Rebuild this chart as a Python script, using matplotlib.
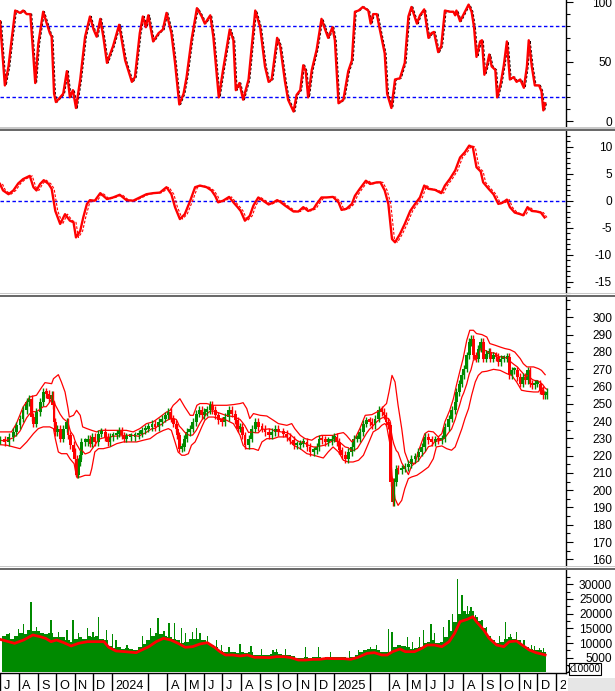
import numpy as np
import pandas as pd
import matplotlib
matplotlib.use("Agg")
import matplotlib.pyplot as plt
from matplotlib.patches import Rectangle
from matplotlib.ticker import MultipleLocator, FixedLocator

plt.rcParams['font.family'] = ['Liberation Sans', 'DejaVu Sans']
plt.rcParams['axes.unicode_minus'] = False

# ---------------- data (day offsets from 2023-07-01) ----------------
START = pd.Timestamp('2023-07-01')

stoch_day = [0, 8, 14, 19, 25, 33, 38, 44, 50, 55, 58, 63, 71, 77, 82, 85, 89, 92, 99, 104,
             110, 115, 120, 125, 132, 140, 148, 154, 159, 165, 170, 176, 186, 196, 206, 217, 222, 230, 235, 240,
             244, 252, 261, 268, 274, 282, 288, 295, 302, 307, 315, 324, 332, 337, 346, 351, 360, 367, 378, 384,
             388, 394, 400, 409, 420, 428, 436, 442, 447, 456,
             461, 469, 474, 483, 488, 494, 499, 503, 507, 513, 521, 529, 535, 540, 547, 551, 557, 565, 573, 579,
             584, 590, 597, 606, 610, 614, 620, 625, 633, 637, 644, 650, 658, 666, 672, 677, 686, 691, 698, 705,
             710, 714, 721, 726, 732, 740, 746, 749, 751, 757, 765, 771, 776, 780, 784, 790, 793, 797, 801, 805,
             809, 815, 818, 824, 829, 834, 839, 845, 850, 856, 862, 867, 870, 875, 880, 887, 891, 894, 897]
stoch_k = [84, 30, 46, 68, 93, 91, 93, 90, 90, 54, 32, 65, 92, 82, 74, 71, 23, 16, 20, 23,
           42, 20, 26, 11, 35, 71, 88, 77, 71, 86, 71, 49, 63, 81, 51, 33, 37, 74, 88, 79,
           89, 67, 74, 77, 91, 74, 49, 14, 23, 37, 68, 95, 88, 82, 89, 71, 20, 43, 77, 68,
           26, 32, 18, 35, 93, 79, 46, 33, 35, 70,
           63, 33, 18, 8, 22, 26, 47, 42, 20, 43, 60, 86, 77, 70, 79, 68, 15, 18, 42, 51,
           92, 93, 96, 93, 82, 90, 90, 77, 57, 23, 11, 35, 36, 49, 88, 96, 82, 89, 94, 70,
           74, 75, 58, 63, 93, 92, 92, 89, 93, 84, 92, 98, 92, 79, 54, 67, 68, 39, 46, 56,
           46, 43, 20, 32, 47, 67, 35, 37, 33, 35, 28, 46, 68, 46, 30, 30, 25, 9, 15]

macd_day = [0, 5, 14, 22, 30, 38, 49, 55, 60, 66, 72, 80, 85, 91, 99, 107, 115, 121, 125, 132,
            137, 143, 148, 156, 165, 176, 186, 197, 208, 219, 230, 241, 252, 263, 274, 282, 288, 296, 304, 313,
            321, 329, 340, 348, 354, 359, 367, 377, 384, 391, 396, 403, 411, 417, 425, 433, 442, 450, 456,
            461, 469, 483, 491, 499, 507, 516, 521, 529, 537, 548, 557, 562, 570, 579, 584, 592, 602, 609, 620,
            626, 633, 639, 645, 650, 658, 666, 675, 683, 691, 698, 705, 716, 726, 732, 740, 749, 757, 765, 772,
            778, 784, 791, 795, 804, 812, 820, 828, 834, 839, 847, 856, 861, 868, 875, 883, 890, 896]
macd_val = [3.1, 1.9, 1.2, 1.9, 3.2, 4.0, 4.6, 2.5, 1.9, 3.1, 3.8, 3.1, 2.2, -1.9, -4.3, -2.5, -3.7, -4.0, -6.8, -5.6,
            -3.1, -0.6, 0.1, 0.0, 1.4, 0.3, 0.6, 1.1, 0.1, 0.0, 0.6, 1.2, 1.4, 1.5, 2.5, 1.2, -1.2, -3.4, -2.5, 0.0,
            2.5, 2.8, 2.5, 1.9, 0.9, -0.3, 0.0, 0.7, -0.3, -1.2, -1.9, -3.7, -2.8, -0.9, 0.6, 0.0, -0.7, -0.3, 0.1,
            -0.2, -0.9, -2.0, -2.0, -1.2, -1.9, -1.5, -0.6, 0.6, 0.6, 0.7, -0.3, -1.7, -1.5, -0.6, 0.9, 2.2, 3.7, 3.1, 3.4,
            3.4, 1.9, -0.6, -7.1, -7.7, -6.2, -4.3, -1.9, -0.6, 0.6, 2.8, 2.2, 2.0, 1.4, 2.8, 4.0, 5.6, 8.0, 9.0, 10.2,
            9.9, 6.2, 5.4, 3.4, 2.2, 1.2, -0.6, -0.3, 0.2, -1.2, -2.2, -2.5, -2.7, -1.2, -1.9, -2.0, -2.2, -3.1]

price_day = [0, 8, 14, 22, 27, 33, 38, 44, 48, 52, 55, 60, 66, 71, 76, 80, 85, 87, 89, 91,
             94, 99, 104, 110, 112, 116, 121, 123, 126, 129, 132, 134, 140, 144, 148, 151, 156, 162, 167, 173,
             177, 181, 186, 192, 196, 200, 204, 208, 215, 222, 228, 233, 239, 244, 250, 255, 261, 266, 272, 277,
             281, 285, 290, 292, 295, 299, 303, 307, 312, 317, 323, 328, 332, 336, 340, 346, 349, 354, 359, 365,
             370, 376, 381, 387, 391, 395, 399, 403, 409, 414, 420, 425, 431, 436, 442, 447, 453, 458,
             466, 472, 477, 483, 488, 494, 499, 505, 510, 516, 521, 525, 529, 535, 540, 546, 550, 554, 558, 562,
             568, 573, 579, 582, 588, 592, 598, 603, 608, 612, 617, 623, 628, 632, 635, 639, 642, 643, 646, 648,
             652, 655, 661, 666, 672, 677, 683, 688, 694, 699, 705, 710, 716, 721, 727, 732, 738, 743, 749, 751,
             756, 760, 763, 768, 772, 775, 779, 783, 787, 791, 795, 800, 804, 807, 812, 816, 820, 824, 829, 835,
             838, 842, 846, 851, 856, 860, 864, 868, 872, 876, 880, 884, 889, 893, 897, 900]
price_close = [228.9, 227.9, 230.8, 233.7, 237.5, 241.4, 246.2, 251.0, 253.0, 242.3,
               238.5, 245.2, 251.0, 256.8, 255.8, 253.0, 254.9, 249.1, 239.5, 233.7,
               235.6, 229.8, 235.6, 239.5, 231.7, 226.0, 222.1, 218.2, 209.0, 216.3,
               220.2, 227.9, 227.9, 229.8, 226.9, 230.8, 227.9, 232.7, 233.7, 230.8,
               227.9, 230.8, 231.7, 232.7, 234.6, 231.7, 229.8, 230.8, 230.8, 231.7,
               232.7, 234.6, 235.6, 236.6, 238.5, 236.6, 239.5, 241.4, 243.3, 245.2,
               241.4, 238.5, 235.6, 231.7, 224.0, 225.0, 229.8, 233.7, 235.6, 239.5,
               244.3, 246.2, 243.3, 245.2, 246.2, 249.1, 246.2, 243.3, 240.4, 239.5,
               242.3, 246.2, 244.3, 240.4, 235.6, 236.6, 231.7, 226.0, 229.8, 235.6,
               239.5, 236.6, 235.6, 233.7, 231.7, 233.7, 235.6, 233.7,
               232.7, 230.8, 228.9, 226.0, 226.0, 226.9, 227.9, 225.0, 222.1, 223.0,
               225.0, 229.8, 228.9, 227.9, 228.3, 229.8, 230.8, 227.9, 223.0, 220.2,
               218.2, 222.1, 225.0, 229.8, 229.8, 233.7, 238.5, 240.4, 239.5, 237.5,
               241.4, 246.2, 245.2, 243.3, 239.5, 237.5, 226.0, 204.7, 193.0, 204.7,
               212.5, 211.5, 212.5, 213.4, 215.3, 218.2, 219.2, 222.1, 225.0, 230.8,
               228.9, 227.9, 229.4, 228.9, 229.8, 236.6, 241.4, 246.2, 251.0, 256.8,
               261.6, 266.4, 270.3, 278.0, 285.7, 287.7, 278.0, 276.1, 281.9, 285.7,
               276.1, 279.0, 279.9, 276.1, 278.0, 277.1, 274.2, 276.1, 276.1, 277.1,
               266.4, 269.3, 269.3, 265.5, 261.6, 265.5, 263.6, 269.3, 261.6, 260.7,
               261.6, 261.6, 257.8, 254.9, 254.9, 256.8]

bb_up_day = [0, 19, 27, 38, 49, 60, 69, 74, 85, 88, 96, 101, 107, 112, 114, 121, 126, 132, 136, 143,
             151, 159, 165, 186, 208, 219, 230, 241, 252, 263, 274, 280, 285, 291, 296, 304, 313, 318, 324, 329,
             340, 351, 373, 384, 395, 400, 406, 411, 417, 428, 439, 450, 458,
             472, 480, 485, 494, 502, 513, 521, 529, 548, 557, 565, 570, 579, 584, 592, 601, 612, 620, 628, 633,
             636, 640, 645, 650, 655, 661, 666, 672, 683, 688, 694, 699, 705, 713, 721, 727, 732, 740, 746, 751,
             757, 762, 768, 773, 779, 784, 793, 801, 806, 815, 823, 831, 839, 847, 856, 861, 867, 878, 886, 891, 897]
bb_up = [233.7, 233.7, 238.5, 248.1, 253.9, 254.9, 259.7, 262.2, 261.6, 264.5,
         266.8, 262.6, 256.8, 247.2, 242.3, 243.3, 246.2, 243.3, 236.6, 235.6,
         234.6, 233.7, 234.6, 234.6, 234.6, 233.7, 235.6, 238.5, 239.5, 242.3,
         245.2, 246.2, 249.1, 251.0, 252.9, 248.1, 243.3, 243.3, 249.1, 250.1,
         250.1, 249.1, 249.1, 249.5, 250.1, 250.6, 247.2, 241.4, 244.3, 243.3,
         242.9, 240.4, 238.5,
         237.5, 238.5, 235.6, 231.7, 229.8, 228.9, 230.8, 231.7, 231.7, 232.7,
         233.3, 231.7, 227.9, 229.8, 235.6, 243.3, 243.7, 245.2, 247.2, 249.1,
         250.1, 256.8, 266.4, 262.6, 249.1, 235.6, 222.1, 216.3, 215.3, 222.1,
         227.9, 232.7, 234.1, 233.7, 230.8, 232.7, 239.5, 246.2, 252.9, 260.7,
         269.3, 276.1, 286.7, 292.5, 292.5, 290.6, 290.0, 288.6, 284.8, 283.8,
         282.8, 281.9, 281.3, 279.9, 276.1, 273.2, 271.3, 271.3, 270.3, 269.3, 266.8]

bb_lo_day = [0, 11, 22, 33, 44, 55, 63, 71, 82, 88, 91, 96, 101, 110, 115, 122, 126, 132, 140, 148,
             151, 156, 162, 170, 181, 192, 203, 225, 236, 247, 258, 269, 277, 282, 288, 293, 299, 304, 310, 315,
             321, 326, 332, 337, 343, 351, 362, 373, 384, 389, 395, 400, 406, 417, 425, 431, 439, 450, 458,
             472, 483, 494, 505, 516, 532, 540, 548, 557, 565, 573, 581, 590, 598, 606, 614, 623, 628, 633, 636,
             641, 645, 650, 655, 661, 666, 672, 677, 686, 694, 705, 713, 718, 727, 735, 743, 749, 754, 760, 765,
             771, 776, 782, 787, 793, 801, 812, 823, 834, 842, 850, 858, 867, 878, 886, 891, 897]
bb_lo = [226.3, 226.0, 225.0, 224.0, 227.9, 232.7, 235.6, 236.6, 236.6, 235.6,
         229.8, 222.1, 221.1, 221.1, 218.2, 215.3, 207.6, 207.6, 208.6, 208.6,
         212.5, 222.1, 224.0, 224.0, 225.0, 226.9, 227.9, 227.9, 228.9, 229.8,
         232.7, 234.6, 235.6, 234.6, 227.9, 222.1, 220.2, 220.2, 221.1, 226.0,
         227.9, 231.7, 236.6, 240.4, 242.3, 242.3, 241.4, 240.4, 238.5, 235.6,
         231.7, 226.0, 224.0, 224.0, 223.0, 227.9, 229.8, 229.8, 230.8,
         230.8, 226.0, 224.0, 221.1, 220.2, 218.6, 222.1, 225.0, 222.1, 217.3,
         216.3, 216.3, 217.3, 220.2, 226.9, 233.7, 235.6, 237.5, 238.5, 237.5,
         227.9, 208.6, 195.1, 191.2, 194.1, 200.9, 206.7, 207.6, 208.6, 210.5,
         213.4, 218.2, 225.0, 225.6, 224.0, 223.1, 225.0, 229.8, 235.6, 241.4,
         247.2, 254.9, 262.6, 266.4, 268.4, 268.8, 269.9, 269.3, 267.4, 266.4,
         262.6, 257.8, 257.2, 256.8, 256.8, 259.7, 255.8]

# weekly volume level (units of 10000 shares), weeks ending Fridays from 2023-07-07
vol_week = [12500, 13000, 11500, 12500, 13500, 13000, 14500, 14000, 14000, 13500,
            13000, 13500, 12000, 12000, 12000, 11000, 10500, 11500, 12000, 11500,
            12500, 12000, 12500, 11500, 11000, 9000, 8200, 8500, 8000, 8200,
            7800, 7500, 8500, 9800, 11000, 12500, 13500, 13000, 12500, 12000,
            11500, 11000, 10000, 10500, 11500, 11500, 11500, 11000, 10000, 9500,
            8500, 7200, 6800, 7000, 6800, 6500, 6800, 6500, 6800, 6000,
            5800, 6000, 5800, 6300, 6800, 6300, 5800, 5800, 5500, 5000,
            4900, 5100, 5000, 5200, 5100, 5000, 5400, 5300, 5200, 5300,
            5100, 5000, 5200, 5800, 6800, 7600, 7800, 8000, 7600, 7000,
            6800, 7000, 8800, 9200, 9000, 8500, 8000, 8200, 8500, 10000,
            10500, 11000, 10000, 10500, 12000, 14000, 17000, 20000, 21000, 20000,
            21000, 19000, 17500, 15000, 12500, 11000, 10000, 10500, 11500, 12000,
            11500, 11000, 9500, 8500, 8000, 7500, 7500, 7000]
vol_week_dates = pd.date_range('2023-07-07', periods=len(vol_week), freq='7D')

# single-day volume spikes
spike_day = [16, 30, 39, 51, 60, 72, 84, 96, 110, 120, 129, 144, 153, 162, 175, 185, 191, 209, 235, 248,
             260, 270, 278, 287, 299, 305, 317, 323, 329, 341, 356, 365, 377, 395, 413, 430, 449, 455, 470, 503,
             524, 544, 575, 590, 610, 620, 639, 645, 670, 679, 690, 697, 709, 715, 730, 739, 745, 753, 760, 765,
             769, 775, 782, 793, 800, 822, 832, 840, 850, 862, 874, 880, 888, 894]
spike_vol = [13500, 14900, 16400, 24000, 15500, 13300, 17850, 13900, 14500, 17850, 13300, 15000, 13900, 19000,
             14500, 13000, 11000, 9300, 12500, 15000, 18400, 14000, 16700, 16700, 15000, 13500, 13900, 15000,
             13300, 12500, 11000, 9500, 8800, 9700, 9000, 8000, 7600, 7800, 7800, 8800, 8800, 7000, 7200, 7500,
             8500, 9500, 14900, 13900, 12200, 10500, 12000, 14400, 16400, 13500, 15600, 17850, 20000, 31900,
             26200, 21000, 22700, 22100, 19500, 17850, 15500, 12500, 17300, 13000, 13900, 11000, 9300, 9000,
             8200, 8200]

volma_day = [0, 24, 39, 54, 66, 75, 84, 93, 105, 117, 129, 144, 156, 171, 179, 191, 206, 224, 233, 245,
             257, 269, 281, 293, 305, 317, 329, 341, 353, 362, 371, 383, 395, 407, 419, 431, 443, 455, 467, 479,
             491, 503, 515, 526, 538, 550, 565, 577, 589, 604, 616, 628, 637, 646, 658, 667, 682, 694, 703, 715,
             727, 739, 748, 757, 769, 778, 784, 796, 805, 817, 829, 838, 850, 859, 871, 882, 891, 897]
volma = [11260, 9900, 11040, 12740, 12170, 11600, 10470, 11040, 10130, 8990, 9900, 10470, 10470, 10470,
         8540, 7290, 7060, 6720, 7630, 8770, 10470, 11600, 11040, 9900, 8540, 8770, 9670, 10130, 8540, 7060,
         5930, 5930, 5590, 5930, 5130, 5130, 5020, 5360, 5360, 5020, 4220, 4220, 4450, 4450, 4790, 4680,
         4680, 4450, 5130, 6490, 6720, 5930, 5930, 7060, 7970, 7060, 7060, 8200, 9330, 9330, 8770, 10470,
         13310, 17280, 18080, 18980, 17280, 14440, 11600, 9330, 8770, 10470, 10700, 9330, 7630, 6720, 6270, 5930]

# ---------------- layout ----------------
W, H = 615, 691
PLOT_R = 566
DAYS_PER_PX = 1.6454
XMAX = PLOT_R * DAYS_PER_PX
RED = '#ff0000'
GREEN = '#008a00'
BLUE = '#0000ff'

fig = plt.figure(figsize=(W / 100, H / 100), dpi=100)
fig.patch.set_facecolor('white')


def add_ax(top, bottom):
    return fig.add_axes([0, 1 - bottom / H, PLOT_R / W, (bottom - top) / H])


def lim_from(top, bottom, v1, y1, v2, y2):
    k = (v2 - v1) / (y2 - y1)
    return v1 + (bottom - y1) * k, v1 + (top - y1) * k


def style(ax, ylim, majors, minor):
    ax.set_xlim(0, XMAX)
    ax.set_ylim(*ylim)
    ax.set_facecolor('white')
    for s in ['left', 'top', 'bottom']:
        ax.spines[s].set_visible(False)
    ax.spines['right'].set_linewidth(1.0)
    ax.spines['right'].set_color('black')
    ax.set_xticks([])
    ax.yaxis.tick_right()
    ax.yaxis.set_major_locator(FixedLocator(majors))
    ax.yaxis.set_minor_locator(MultipleLocator(minor))
    ax.tick_params(axis='y', which='major', direction='out', length=5, width=0.8,
                   pad=28.2, labelsize=8.6, colors='black')
    ax.tick_params(axis='y', which='minor', direction='out', length=3, width=0.8)
    for lab in ax.get_yticklabels():
        lab.set_horizontalalignment('right')


def days(v):
    return np.asarray(v, dtype=float)


# Panel 1: stochastic
P1 = (0, 127.5)
ax1 = add_ax(*P1)
style(ax1, lim_from(*P1, 80, 26, 20, 97.3), [0, 50, 100], 10)
ax1.axhline(80, color=BLUE, lw=1.0, dashes=(2.5, 1.8))
ax1.axhline(20, color=BLUE, lw=1.0, dashes=(2.5, 1.8))
ax1.plot(days(stoch_day) + 2, stoch_k, color='black', lw=0.9, dashes=(2, 1.5))
ax1.plot(days(stoch_day), stoch_k, color=RED, lw=1.7)

# Panel 2: MACD
P2 = (131, 293)
ax2 = add_ax(*P2)
style(ax2, lim_from(*P2, 0, 200.7, 10, 146.7), [-15, -10, -5, 0, 5, 10], 1)
ax2.axhline(0, color=BLUE, lw=1.0, dashes=(2.5, 1.8))
ax2.plot(days(macd_day) + 4, macd_val, color=RED, lw=0.8, dashes=(2.5, 1.5))
ax2.plot(days(macd_day), macd_val, color=RED, lw=1.7)

# Panel 3: price + Bollinger
P3 = (296.5, 566)
ax3 = add_ax(*P3)
style(ax3, lim_from(*P3, 300, 317.3, 160, 559.3), list(range(160, 301, 10)), 5)
pdays = days(price_day)
close = np.asarray(price_close)
opn = np.r_[close[0], close[:-1]]
col = np.where(close >= opn, GREEN, RED)
lo = np.minimum(opn, close)
hi = np.maximum(opn, close)
ax3.plot(days(bb_up_day), bb_up, color=RED, lw=0.9)
ax3.plot(days(bb_lo_day), bb_lo, color=RED, lw=0.9)
cser = pd.Series(close, index=START + pd.to_timedelta(pdays, unit='D'))
mid = cser.rolling('28D').mean()
ax3.plot(pdays, mid.values, color=RED, lw=0.9)
ax3.vlines(pdays, lo - 2.2, hi + 2.2, colors=col, lw=1.0)
ax3.bar(pdays, np.maximum(hi - lo, 1.5), bottom=lo, width=4.6, color=col, lw=0)

# Panel 4: volume
P4 = (570, 673)
ax4 = add_ax(*P4)
style(ax4, lim_from(*P4, 0, 672.4, 30000, 584.3), [5000, 10000, 15000, 20000, 25000, 30000], 2500)
wdays = np.asarray((vol_week_dates - START).days, dtype=float)
ax4.bar(wdays, vol_week, width=7.0, color=GREEN, lw=0)
ax4.bar(days(spike_day), spike_vol, width=2.2, color=GREEN, lw=0)
ax4.plot(days(volma_day), volma, color=RED, lw=2.0)

# Date axis
PD = (673, 691)
axd = add_ax(*PD)
axd.set_xlim(0, XMAX)
axd.set_ylim(0, 1)
axd.axis('off')
axd.plot([0, XMAX], [1, 1], color='black', lw=1.0, clip_on=False)
months = pd.date_range('2023-07-01', '2026-01-01', freq='MS')
letters = 'JFMAMJJASOND'
for m in months:
    d = (m - START).days
    if m.month == 2:
        continue
    axd.vlines(d, 0, 1, color='black', lw=1.0)
    if m.month == 1:
        lab = str(m.year)
    elif m.month == 3:
        lab = ''
    else:
        lab = letters[m.month - 1]
    axd.text(d + 3.5 * DAYS_PER_PX, 0.12, lab, fontsize=9.2, va='baseline', ha='left',
             color='black', clip_on=True)


# figure-level decorations
def frect(x0, y0, x1, y1, **kw):
    fig.add_artist(Rectangle((x0 / W, 1 - y1 / H), (x1 - x0) / W, (y1 - y0) / H,
                             transform=fig.transFigure, **kw))


for light_y, dark_y in [(127.5, 128.8), (293.2, 294.6), (566.2, 567.8)]:
    frect(0, light_y, W, light_y + 1, color='#c8c8c8', lw=0)
    frect(0, dark_y, W, dark_y + 2, color='#6a6a6a', lw=0)

frect(568, 677.5, W, H, color='#e6e6e6', lw=0)
frect(568.5, 663, 601, 675, facecolor='white', edgecolor='black', lw=0.8)
fig.text(584.7 / W, 1 - 669.2 / H, 'x10000', fontsize=7.2, ha='center', va='center', color='black')

fig.savefig('out.png', dpi=100, facecolor='white')
